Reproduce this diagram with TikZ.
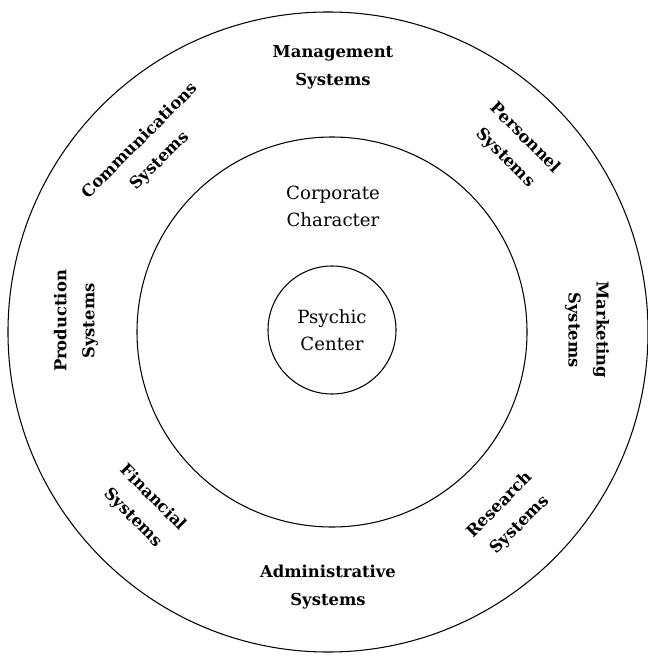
\documentclass[tikz,border=0pt]{standalone}
\usepackage{fontspec}
\setmainfont{DejaVu Serif}
\tikzstyle{ring} = [draw, circle, line width=0.9pt, inner sep=0pt]
\tikzstyle{sysname} = [align=center, font=\bfseries\fontsize{14}{24}\selectfont]
\tikzstyle{corename} = [align=center, font=\fontsize{15.5}{23}\selectfont]

\begin{document}
\begin{tikzpicture}[x=0.03cm, y=-0.03cm]
	\useasboundingbox (0,0) rectangle (647,656);
	% the three rings
	\node (outer) [ring, minimum size=19.2cm] at (328,332) {};
	\node (middle) [ring, minimum size=11.7cm] at (332,332) {};
	\node (core) [ring, corename, minimum size=3.84cm] at (332,330) {Psychic\\Center};
	\node (character) [corename] at (333,206) {Corporate\\Character};
	
	% systems round the outer ring
	\node (mgmt) [sysname] at (333,67) {Management\\Systems};
	\node (personnel) [sysname, rotate=-45] at (515,148) {Personnel\\Systems};
	\node (marketing) [sysname, rotate=-90] at (587,330) {Marketing\\Systems};
	\node (research) [sysname, rotate=45] at (510,515) {Research\\Systems};
	\node (admin) [sysname] at (328,587) {Administrative\\Systems};
	\node (financial) [sysname, rotate=-45] at (143,508) {Financial\\Systems};
	\node (production) [sysname, rotate=90] at (76,321) {Production\\Systems};
	\node (comms) [sysname, rotate=45] at (150,151) {Communications\\Systems};
\end{tikzpicture}
\end{document}
